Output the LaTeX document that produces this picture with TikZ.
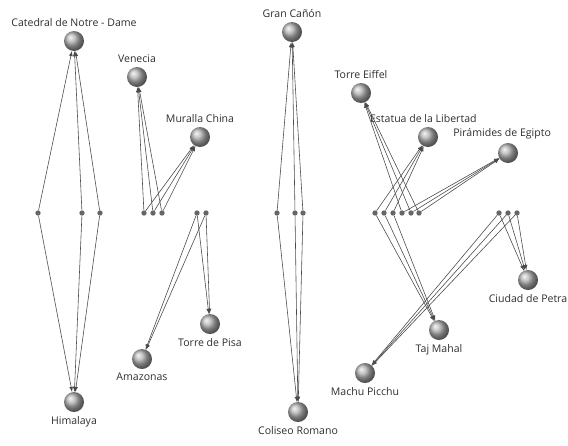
\documentclass[tikz,border=0pt]{standalone}
\usepackage{fontspec}
\setmainfont{Open Sans}
\usepackage{xcolor}
\usepackage{tikz}

\definecolor{linegray}{HTML}{4A4A4A}
\definecolor{dotgray}{HTML}{666666}
\definecolor{textgray}{HTML}{2E2E2E}

\tikzset{
  place/.style={circle, inner sep=0pt, minimum size=0.6cm, shading=ball, ball color=gray!60},
  visitor/.style={circle, inner sep=0pt, minimum size=0.16cm, fill=dotgray},
  link/.style={->, draw=linegray, line width=0.5pt},
  every label/.style={font=\fontsize{9}{11}\selectfont, text=textgray, inner sep=1pt}
}

\begin{document}
\begin{tikzpicture}[x=0.03cm, y=-0.03cm, >=latex]
    \useasboundingbox (0, 0) rectangle (568, 445);

    % places
    \node[place, label={[label distance=2pt]above:Catedral de Notre - Dame}] (notredame) at (74, 41) {};
    \node[place, label={[label distance=2pt]below:Himalaya}] (himalaya) at (74, 402) {};
    \node[place, label={[label distance=2pt]above:Venecia}] (venecia) at (137, 77) {};
    \node[place, label={[label distance=2pt]above:Muralla China}] (muralla) at (200, 137) {};
    \node[place, label={[label distance=2pt]below:Torre de Pisa}] (pisa) at (210, 324) {};
    \node[place, label={[label distance=2pt]below:Amazonas}] (amazonas) at (142, 359) {};
    \node[place, label={[label distance=2pt]above:Gran Cañón}] (canon) at (292, 32) {};
    \node[place, label={[label distance=2pt]below:Coliseo Romano}] (coliseo) at (298, 412) {};
    \node[place, label={[label distance=2pt]above:Torre Eiffel}] (eiffel) at (361, 93) {};
    \node[place, label={[label distance=2pt, xshift=-4pt]above:Estatua de la Libertad}] (estatua) at (428, 137) {};
    \node[place, label={[label distance=2pt, xshift=-5pt]above:Pirámides de Egipto}] (piramides) at (508, 153) {};
    \node[place, label={[label distance=2pt]below:Taj Mahal}] (tajmahal) at (439, 330) {};
    \node[place, label={[label distance=2pt]below:Ciudad de Petra}] (petra) at (528, 280) {};
    \node[place, label={[label distance=2pt]below:Machu Picchu}] (machu) at (365, 373) {};

    % visitors
    \node[visitor] (l1) at (38, 213) {};
    \node[visitor] (l2) at (82, 213) {};
    \node[visitor] (l3) at (100, 213) {};
    \node[visitor] (v1) at (144, 213) {};
    \node[visitor] (v2) at (153, 213) {};
    \node[visitor] (v3) at (162, 213) {};
    \node[visitor] (a1) at (197, 213) {};
    \node[visitor] (a2) at (206, 213) {};
    \node[visitor] (g1) at (277, 213) {};
    \node[visitor] (g2) at (295, 213) {};
    \node[visitor] (g3) at (303, 213) {};
    \node[visitor] (r1) at (375, 213) {};
    \node[visitor] (r2) at (384, 213) {};
    \node[visitor] (r3) at (393, 213) {};
    \node[visitor] (r4) at (402, 213) {};
    \node[visitor] (r5) at (411, 213) {};
    \node[visitor] (r6) at (419, 213) {};
    \node[visitor] (p1) at (499, 213) {};
    \node[visitor] (p2) at (508, 213) {};
    \node[visitor] (p3) at (517, 213) {};

    % links
    \foreach \v in {l1, l2, l3} {
        \draw[link] (\v) -- (notredame);
        \draw[link] (\v) -- (himalaya);
    }
    \foreach \v in {v1, v2, v3} {
        \draw[link] (\v) -- (venecia);
        \draw[link] (\v) -- (muralla);
    }
    \foreach \v in {a1, a2} {
        \draw[link] (\v) -- (amazonas);
        \draw[link] (\v) -- (pisa);
    }
    \foreach \v in {g1, g2, g3} {
        \draw[link] (\v) -- (canon);
        \draw[link] (\v) -- (coliseo);
    }
    \foreach \v in {r1, r2, r3} {
        \draw[link] (\v) -- (estatua);
        \draw[link] (\v) -- (tajmahal);
    }
    \foreach \v in {r4, r5, r6} {
        \draw[link] (\v) -- (eiffel);
        \draw[link] (\v) -- (piramides);
    }
    \foreach \v in {p1, p2, p3} {
        \draw[link] (\v) -- (machu);
        \draw[link] (\v) -- (petra);
    }
\end{tikzpicture}
\end{document}
